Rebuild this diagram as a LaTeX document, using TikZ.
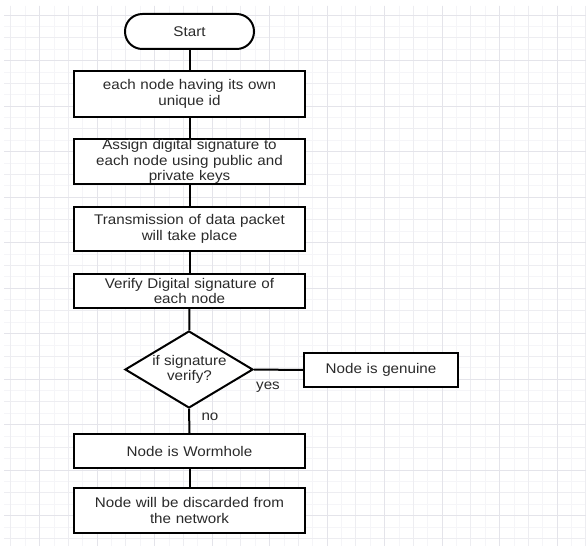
\documentclass[tikz,border=0pt]{standalone}
\usepackage{fontspec}
\setmainfont[FakeStretch=1.085]{Liberation Sans}
\usetikzlibrary{shapes.geometric}
\definecolor{gridfaint}{HTML}{F5F5F8}
\definecolor{gridmid}{HTML}{EDEDF1}
\definecolor{gridmajor}{HTML}{E4E4EA}
\definecolor{txt}{HTML}{2A2A2A}
\tikzset{
  fnt/.style={font=\fontsize{10.5}{11.8}\selectfont},
  box/.style={draw=black, line width=1.5pt, fill=white, minimum width=173.25pt, text width=172pt, align=center, inner sep=0pt, fnt, text=txt},
  term/.style={draw=black, line width=1.5pt, fill=white, rounded corners=13pt, minimum width=96.75pt, minimum height=26.25pt, inner sep=0pt, fnt, text=txt},
  decision/.style={diamond, draw=black, line width=1.5pt, fill=white, inner sep=0pt, minimum width=96pt, minimum height=57.75pt},
  dtext/.style={align=center, inner sep=0pt, fnt, text=txt},
  link/.style={draw=black, line width=1.5pt},
  lbl/.style={fnt, text=txt, inner sep=0pt}
}
\begin{document}
\begin{tikzpicture}[x=0.75pt, y=-0.75pt]
\useasboundingbox (0,0) rectangle (586,549);
\fill[white] (0,0) rectangle (586,549);
% grid
\foreach \i in {1,...,40} {
  \pgfmathsetmacro{\gx}{-3.625+\i*14.375}
  \draw[gridfaint, line width=0.5pt] (\gx,6) -- (\gx,546);
}
\foreach \i in {1,...,47} {
  \pgfmathsetmacro{\gy}{3.625+\i*11.375}
  \draw[gridfaint, line width=0.5pt] (4,\gy) -- (586,\gy);
}
\foreach \i in {0,...,20} {
  \pgfmathsetmacro{\gx}{10.75+\i*28.75}
  \draw[gridmid, line width=0.6pt] (\gx,6) -- (\gx,546);
}
\foreach \i in {0,...,23} {
  \pgfmathsetmacro{\gy}{15+\i*22.75}
  \draw[gridmid, line width=0.6pt] (4,\gy) -- (586,\gy);
}
\foreach \i in {0,...,9} {
  \pgfmathsetmacro{\gx}{39.5+\i*57.5}
  \draw[gridmajor, line width=0.7pt] (\gx,6) -- (\gx,546);
}
\foreach \i in {0,...,11} {
  \pgfmathsetmacro{\gy}{15+\i*45.5}
  \draw[gridmajor, line width=0.7pt] (4,\gy) -- (586,\gy);
}
% nodes
\node[term] (start) at (189.5,31.5) {Start};
\node[box, minimum height=34.5pt] (n1) at (189.5,94) {each node having its own\\unique id};
\node[box, minimum height=33.75pt] (n2) at (189.5,161.5) {Assign digital signature to\\each node using public and\\private keys};
\node[box, minimum height=33pt] (n3) at (189.5,229) {Transmission of data packet\\will take place};
\node[box, minimum height=25.5pt] (n4) at (189.5,291) {Verify Digital signature of\\each node};
\node[decision] (d) at (189,369.5) {};
\node[dtext] (dt) at (189.5,369.5) {if signature\\verify?};
\node[box, minimum width=115.5pt, text width=114pt, minimum height=25.5pt] (g) at (381,370) {Node is genuine};
\node[box, minimum height=25.5pt] (w) at (189.5,451) {Node is Wormhole};
\node[box, minimum height=33.75pt] (x) at (189.5,510.5) {Node will be discarded from\\the network};
% connectors
\draw[link] (start) -- (n1);
\draw[link] (n1) -- (n2);
\draw[link] (n2) -- (n3);
\draw[link] (n3) -- (n4);
\draw[link] (n4) -- (d);
\draw[link] (d.east) -- (g.west);
\draw[link] (d.south) -- (w.north);
\draw[link] (w) -- (x);
\node[lbl] (yes) at (268,387) {yes};
\node[lbl] (no) at (210,417) {no};
\end{tikzpicture}
\end{document}
